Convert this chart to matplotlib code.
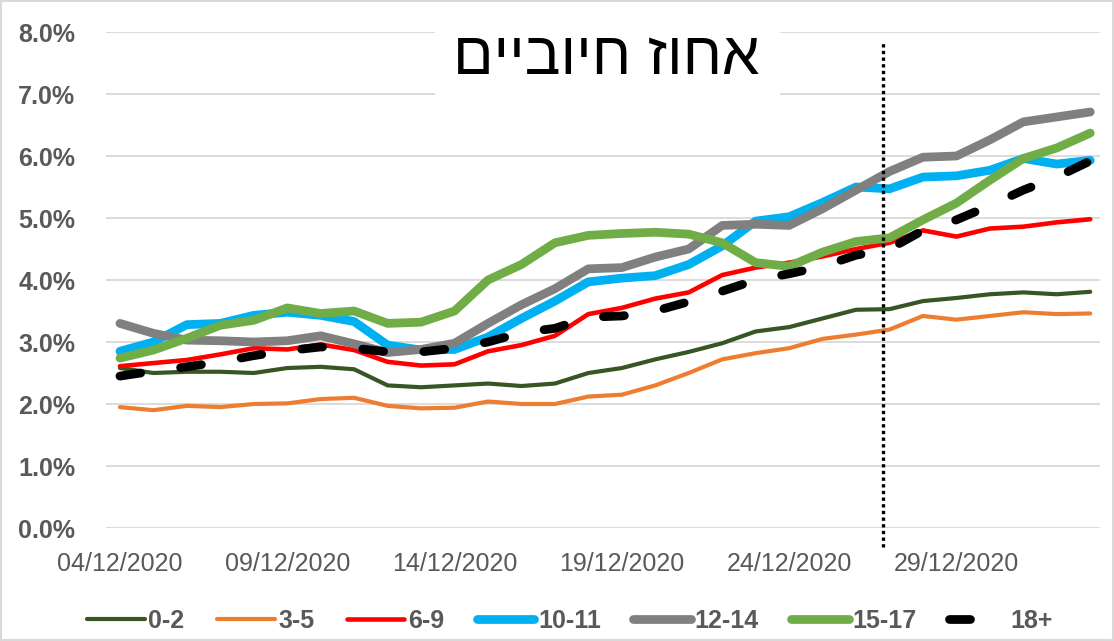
import matplotlib
matplotlib.use("Agg")
import matplotlib.pyplot as plt
import matplotlib.dates as mdates
from matplotlib.patches import Rectangle
from matplotlib.ticker import FuncFormatter
import pandas as pd

plt.rcParams['font.family'] = ['Liberation Sans', 'DejaVu Sans']

# נתונים - אחוז בדיקות חיוביות לפי קבוצת גיל
dates = pd.date_range('2020-12-04', periods=30, freq='D')

age_0_2 = [2.58, 2.50, 2.52, 2.52, 2.50, 2.58, 2.60, 2.56, 2.30, 2.27,
           2.30, 2.33, 2.29, 2.33, 2.50, 2.58, 2.72, 2.84, 2.98, 3.17,
           3.24, 3.38, 3.52, 3.53, 3.66, 3.71, 3.77, 3.80, 3.77, 3.81]
age_3_5 = [1.95, 1.90, 1.97, 1.95, 2.00, 2.01, 2.08, 2.10, 1.97, 1.93,
           1.94, 2.04, 2.00, 2.00, 2.12, 2.15, 2.30, 2.50, 2.72, 2.82,
           2.90, 3.05, 3.12, 3.20, 3.42, 3.36, 3.42, 3.48, 3.45, 3.46]
age_6_9 = [2.61, 2.66, 2.71, 2.80, 2.90, 2.88, 2.96, 2.87, 2.68, 2.62,
           2.64, 2.85, 2.95, 3.10, 3.45, 3.55, 3.70, 3.80, 4.08, 4.20,
           4.28, 4.38, 4.50, 4.60, 4.80, 4.70, 4.83, 4.86, 4.93, 4.98]
age_10_11 = [2.85, 3.00, 3.28, 3.30, 3.43, 3.48, 3.43, 3.33, 2.95, 2.87,
             2.88, 3.08, 3.38, 3.66, 3.97, 4.03, 4.07, 4.25, 4.55, 4.95,
             5.02, 5.25, 5.50, 5.47, 5.66, 5.68, 5.77, 5.96, 5.87, 5.93]
age_12_14 = [3.30, 3.14, 3.03, 3.02, 3.00, 3.02, 3.10, 2.97, 2.83, 2.88,
             2.98, 3.30, 3.60, 3.86, 4.18, 4.20, 4.37, 4.50, 4.88, 4.90,
             4.88, 5.15, 5.45, 5.75, 5.98, 6.00, 6.26, 6.55, 6.63, 6.71]
age_15_17 = [2.74, 2.87, 3.06, 3.27, 3.35, 3.55, 3.46, 3.50, 3.30, 3.32,
             3.50, 4.00, 4.25, 4.60, 4.72, 4.75, 4.77, 4.74, 4.60, 4.28,
             4.22, 4.45, 4.62, 4.68, 4.97, 5.24, 5.61, 5.96, 6.13, 6.37]
age_18_plus = [2.45, 2.53, 2.60, 2.68, 2.78, 2.86, 2.92, 2.90, 2.84, 2.84,
               2.90, 3.00, 3.15, 3.22, 3.40, 3.42, 3.50, 3.65, 3.82, 4.00,
               4.10, 4.22, 4.40, 4.50, 4.80, 4.97, 5.20, 5.45, 5.66, 5.92]

labels = ['0-2', '3-5', '6-9', '10-11', '12-14', '15-17', '18+']
marker_date = pd.Timestamp('2020-12-26 19:00')
title = 'אחוז חיוביים'

W, H = 1114, 641
fig = plt.figure(figsize=(W / 100, H / 100), dpi=100)
ax = fig.add_axes([106 / W, 1 - 528 / H, (1100 - 106) / W, (528 - 32) / H])

gray_txt = '#595959'
styles = [
    dict(color='#375623', lw=3.0),
    dict(color='#ED7D31', lw=3.0),
    dict(color='#FF0000', lw=3.3),
    dict(color='#00B0F0', lw=6.3),
    dict(color='#808080', lw=6.3),
    dict(color='#70AD47', lw=6.3),
    dict(color='#000000', lw=6.3, dashes=(2.4, 4.6), dash_capstyle='round'),
]
series = [age_0_2, age_3_5, age_6_9, age_10_11, age_12_14, age_15_17, age_18_plus]

for vals, lab, st in zip(series, labels, styles):
    ax.plot(dates, [v / 100 for v in vals], label=lab,
            solid_capstyle='round', solid_joinstyle='round', zorder=3, **st)

ax.set_ylim(0, 0.08)
ax.set_xlim(dates[0] - pd.Timedelta(hours=10), dates[-1] + pd.Timedelta(hours=7))
ax.set_yticks([i / 100 for i in range(9)])
ax.yaxis.set_major_formatter(FuncFormatter(lambda v, p: f'{v * 100:.1f}%'))
ax.set_xticks(dates[::5])
ax.xaxis.set_major_formatter(mdates.DateFormatter('%d/%m/%Y'))

ax.grid(axis='y', color='#d9d9d9', lw=1.3)
ax.set_axisbelow(True)
for s in ax.spines.values():
    s.set_visible(False)
ax.tick_params(axis='both', length=0)
ax.tick_params(axis='y', pad=22, labelsize=18, labelcolor=gray_txt)
ax.tick_params(axis='x', pad=17, labelsize=18, labelcolor=gray_txt)
for t in ax.get_yticklabels():
    t.set_fontweight('bold')

# קו אנכי מנוקד
ax.plot([marker_date, marker_date], [-0.0031, 0.0782], color='black',
        lw=2.4, linestyle=(0, (1, 1)), clip_on=False, zorder=4)

# תיבת כותרת
ax.add_patch(Rectangle((435 / W, 1 - 104 / H), 345 / W, 96 / H,
                       transform=fig.transFigure, facecolor='white',
                       edgecolor='none', zorder=1, clip_on=False))
fig.text(606 / W, 1 - 58 / H, title[::-1], fontsize=43, ha='center',
         va='center', color='black')

leg = fig.legend(loc='center', bbox_to_anchor=(570 / W, 1 - 621 / H), ncol=7,
                 frameon=False, handlelength=2.3, handletextpad=0.15,
                 columnspacing=1.3, prop={'size': 18, 'weight': 'bold'})
for t in leg.get_texts():
    t.set_color(gray_txt)

fig.patches.append(Rectangle((0.001, 0.001), 0.998, 0.998, transform=fig.transFigure,
                             facecolor='none', edgecolor='#d9d9d9', lw=1.5))

fig.savefig('out.png', dpi=100)
